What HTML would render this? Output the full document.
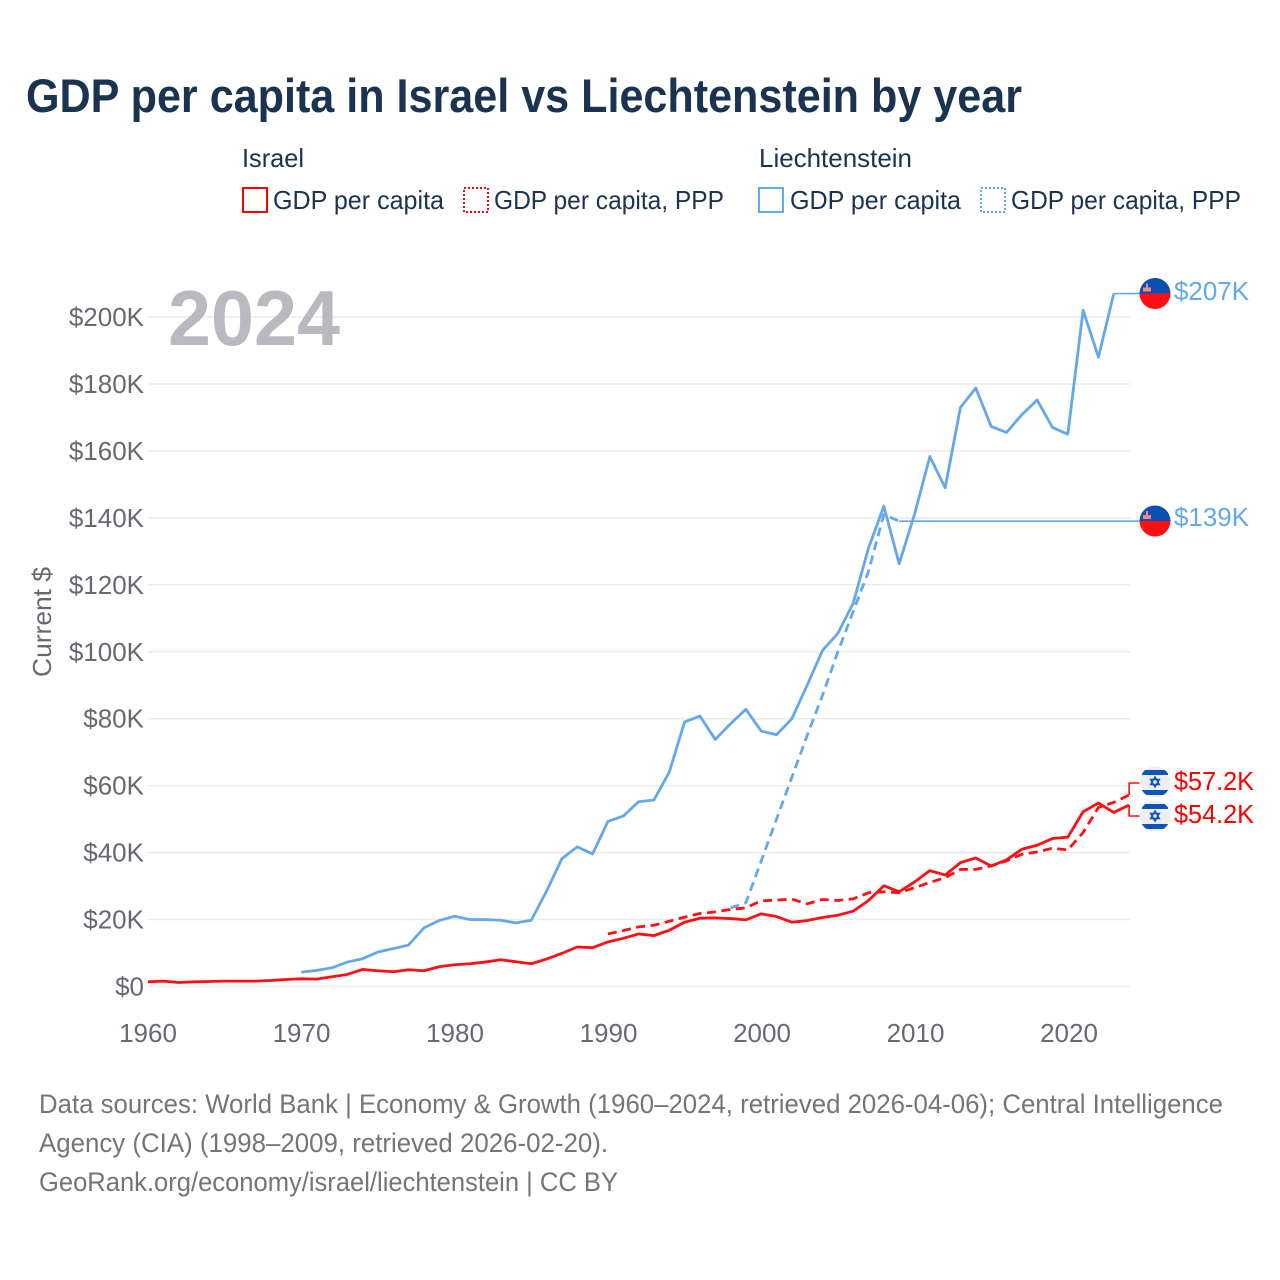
<!DOCTYPE html>
<html lang="en">
<head>
<meta charset="utf-8">
<title>GDP per capita in Israel vs Liechtenstein by year</title>
<style>
html,body{margin:0;padding:0;background:#fff;}
svg{display:block;}
text{font-family:"Liberation Sans",sans-serif;}
</style>
</head>
<body>
<svg id="chart" xmlns="http://www.w3.org/2000/svg" width="1280" height="1280" viewBox="0 0 1280 1280">
  <rect x="0" y="0" width="1280" height="1280" fill="#fff"/>
  <text x="26" y="112" font-size="47" font-weight="bold" fill="#1a3350" textLength="996" lengthAdjust="spacingAndGlyphs">GDP per capita in Israel vs Liechtenstein by year</text>

  <g font-size="26" fill="#1a3350">
    <text x="242" y="167" textLength="62" lengthAdjust="spacingAndGlyphs">Israel</text>
    <rect x="243" y="188" width="24" height="24" fill="none" stroke="#ff0000" stroke-width="2"/>
    <text x="273" y="209" textLength="171" lengthAdjust="spacingAndGlyphs">GDP per capita</text>
    <rect x="464" y="188" width="24" height="24" fill="none" stroke="#ff0000" stroke-width="2" stroke-dasharray="2 2"/>
    <text x="494" y="209" textLength="230" lengthAdjust="spacingAndGlyphs">GDP per capita, PPP</text>
    <text x="759" y="167" textLength="153" lengthAdjust="spacingAndGlyphs">Liechtenstein</text>
    <rect x="759" y="188" width="24" height="24" fill="none" stroke="#64a8ec" stroke-width="2"/>
    <text x="790" y="209" textLength="171" lengthAdjust="spacingAndGlyphs">GDP per capita</text>
    <rect x="981" y="188" width="24" height="24" fill="none" stroke="#64a8ec" stroke-width="2" stroke-dasharray="2 2"/>
    <text x="1011" y="209" textLength="230" lengthAdjust="spacingAndGlyphs">GDP per capita, PPP</text>
  </g>

  <g id="grid"></g>
  <text x="168" y="345" font-size="78" font-weight="bold" fill="#b4b5ba" fill-opacity="0.93" textLength="172" lengthAdjust="spacingAndGlyphs">2024</text>
  <g id="yticks"></g>
  <g id="xticks"></g>
  <text transform="translate(51,622) rotate(-90)" text-anchor="middle" font-size="26" fill="#666a70" textLength="110" lengthAdjust="spacingAndGlyphs">Current $</text>

  <g id="series"></g>

  <defs>
    <clipPath id="flag-clip"><circle cx="0" cy="0" r="15.5"/></clipPath>
  </defs>

  <g transform="translate(1155,293.5)" clip-path="url(#flag-clip)">
    <rect x="-16" y="-16" width="32" height="16" fill="#0a4fb4"/>
    <rect x="-16" y="0" width="32" height="16" fill="#ff0f14"/>
    <rect x="-12" y="-6" width="8" height="4" fill="#f08a80"/>
    <rect x="-9" y="-10" width="2" height="4" fill="#f08a80"/>
  </g>
  <g transform="translate(1155,521)" clip-path="url(#flag-clip)">
    <rect x="-16" y="-16" width="32" height="16" fill="#0a4fb4"/>
    <rect x="-16" y="0" width="32" height="16" fill="#ff0f14"/>
    <rect x="-12" y="-6" width="8" height="4" fill="#f08a80"/>
    <rect x="-9" y="-10" width="2" height="4" fill="#f08a80"/>
  </g>
  <g transform="translate(1155,782)" clip-path="url(#flag-clip)">
    <rect x="-16" y="-16" width="32" height="32" fill="#eeeeee"/>
    <rect x="-13" y="-12" width="26" height="5" fill="#0f55b8"/>
    <rect x="-13" y="8" width="26" height="5" fill="#0f55b8"/>
    <polygon points="0,-5 4.3,2.5 -4.3,2.5" fill="none" stroke="#0f55b8" stroke-width="1.5"/>
    <polygon points="0,5 4.3,-2.5 -4.3,-2.5" fill="none" stroke="#0f55b8" stroke-width="1.5"/>
  </g>
  <g transform="translate(1155,816)" clip-path="url(#flag-clip)">
    <rect x="-16" y="-16" width="32" height="32" fill="#eeeeee"/>
    <rect x="-13" y="-12" width="26" height="5" fill="#0f55b8"/>
    <rect x="-13" y="8" width="26" height="5" fill="#0f55b8"/>
    <polygon points="0,-5 4.3,2.5 -4.3,2.5" fill="none" stroke="#0f55b8" stroke-width="1.5"/>
    <polygon points="0,5 4.3,-2.5 -4.3,-2.5" fill="none" stroke="#0f55b8" stroke-width="1.5"/>
  </g>

  <g font-size="26">
    <text x="1174" y="300" fill="#64a8ec" textLength="75" lengthAdjust="spacingAndGlyphs">$207K</text>
    <text x="1174" y="526" fill="#64a8ec" textLength="75" lengthAdjust="spacingAndGlyphs">$139K</text>
    <text x="1174" y="790" fill="#ff0000" textLength="80" lengthAdjust="spacingAndGlyphs">$57.2K</text>
    <text x="1174" y="823" fill="#ff0000" textLength="80" lengthAdjust="spacingAndGlyphs">$54.2K</text>
  </g>

  <g font-size="27" fill="#757575">
    <text x="39" y="1113" textLength="1184" lengthAdjust="spacingAndGlyphs">Data sources: World Bank | Economy &amp; Growth (1960–2024, retrieved 2026-04-06); Central Intelligence</text>
    <text x="39" y="1152" textLength="569" lengthAdjust="spacingAndGlyphs">Agency (CIA) (1998–2009, retrieved 2026-02-20).</text>
    <text x="39" y="1191" textLength="579" lengthAdjust="spacingAndGlyphs">GeoRank.org/economy/israel/liechtenstein | CC BY</text>
  </g>
</svg>
<script>
const yTickValues = [0, 20, 40, 60, 80, 100, 120, 140, 160, 180, 200];
const yTickLabels = ["$0", "$20K", "$40K", "$60K", "$80K", "$100K", "$120K", "$140K", "$160K", "$180K", "$200K"];
const xTickYears = [1960, 1970, 1980, 1990, 2000, 2010, 2020];
const xTickLabels = ["1960", "1970", "1980", "1990", "2000", "2010", "2020"];

const israelGdpStart = 1960;
const israelGdp = [1.4, 1.6, 1.2, 1.4, 1.5, 1.6, 1.6, 1.6, 1.8, 2.1, 2.3, 2.2, 2.9, 3.6, 5.1, 4.7, 4.4, 5.0, 4.7, 5.9, 6.5, 6.8, 7.3, 8.0, 7.4, 6.8, 8.2, 9.9, 11.8, 11.6, 13.3, 14.4, 15.7, 15.2, 16.8, 19.2, 20.4, 20.5, 20.3, 19.9, 21.7, 20.9, 19.2, 19.7, 20.6, 21.3, 22.5, 25.7, 30.1, 28.3, 31.2, 34.6, 33.3, 37.0, 38.4, 36.0, 37.8, 41.0, 42.2, 44.2, 44.6, 52.2, 54.8, 52.0, 54.2];

const israelPppStart = 1990;
const israelPpp = [15.7, 16.7, 17.8, 18.3, 19.5, 20.7, 21.8, 22.3, 23.0, 23.5, 25.6, 25.8, 26.1, 24.7, 26.0, 25.7, 26.2, 28.0, 28.3, 28.0, 29.5, 31.1, 32.5, 35.0, 35.0, 36.0, 37.5, 39.5, 40.2, 41.3, 40.8, 46.0, 53.5, 55.0, 57.2];

const liechGdpStart = 1970;
const liechGdp = [4.3, 4.8, 5.6, 7.3, 8.3, 10.3, 11.3, 12.4, 17.5, 19.7, 21.0, 20.0, 20.0, 19.8, 19.0, 19.8, 28.5, 38.2, 41.7, 39.6, 49.3, 50.9, 55.2, 55.7, 64.0, 79.0, 80.8, 73.8, 78.5, 82.8, 76.3, 75.2, 80.0, 90.0, 100.4, 105.5, 114.5, 131.0, 143.5, 126.3, 141.0, 158.3, 149.0, 173.0, 178.8, 167.3, 165.5, 170.8, 175.2, 167.0, 165.0, 202.0, 188.0, 207.0];

const liechPppStart = 1998;
const liechPpp = [23.5, 25.0, 37.5, 50.0, 62.5, 75.0, 87.0, 100.0, 112.0, 124.0, 141.0, 139.0];

function xScale(year) { return 148 + (year - 1960) * 15.33; }
function xLabelScale(year) { return 148 + (year - 1960) * 15.35; }
function yScale(value) { return 986.5 - value * 3.3475; }

const NS = "http://www.w3.org/2000/svg";
const gridG = document.getElementById("grid");
const yG = document.getElementById("yticks");
const xG = document.getElementById("xticks");
const seriesG = document.getElementById("series");

yTickValues.forEach(function (v, i) {
  const line = document.createElementNS(NS, "line");
  
  
  line.setAttribute("x1", 148);
  line.setAttribute("x2", 1130);
  line.setAttribute("y1", yScale(v));
  line.setAttribute("y2", yScale(v));
  line.setAttribute("stroke", "#ebebeb");
  line.setAttribute("stroke-width", 1.5);
  gridG.appendChild(line);

  const t = document.createElementNS(NS, "text");
  
  
  t.setAttribute("x", 144);
  t.setAttribute("y", yScale(v) + 9);
  t.setAttribute("text-anchor", "end");
  t.setAttribute("font-size", 26);
  t.setAttribute("fill", "#666a70");
  t.textContent = yTickLabels[i];
  yG.appendChild(t);
});

xTickYears.forEach(function (yr, i) {
  const t = document.createElementNS(NS, "text");
  
  
  t.setAttribute("x", xLabelScale(yr));
  t.setAttribute("y", 1042);
  t.setAttribute("text-anchor", "middle");
  t.setAttribute("font-size", 26);
  t.setAttribute("fill", "#666a70");
  t.textContent = xTickLabels[i];
  xG.appendChild(t);
});

function pathFor(start, values) {
  return values.map(function (v, i) {
    return (i ? "L" : "M") + xScale(start + i).toFixed(2) + " " + yScale(v).toFixed(2);
  }).join(" ");
}

function styleLine(el, color, width, dash) {
  el.setAttribute("fill", "none");
  el.setAttribute("stroke", color);
  el.setAttribute("stroke-width", width);
  el.setAttribute("stroke-linejoin", "round");
  if (dash) el.setAttribute("stroke-dasharray", dash);
}

const blue = "#64a8ec";
const red = "#ff0f14";

const liechPppPath = document.createElementNS(NS, "path");


liechPppPath.setAttribute("d", pathFor(liechPppStart, liechPpp));
styleLine(liechPppPath, blue, 2.8, "9 5.5");
seriesG.appendChild(liechPppPath);

const liechGdpPath = document.createElementNS(NS, "path");


liechGdpPath.setAttribute("d", pathFor(liechGdpStart, liechGdp));
styleLine(liechGdpPath, blue, 2.8, null);
seriesG.appendChild(liechGdpPath);

const israelPppPath = document.createElementNS(NS, "path");


israelPppPath.setAttribute("d", pathFor(israelPppStart, israelPpp));
styleLine(israelPppPath, red, 2.8, "9 5.5");
seriesG.appendChild(israelPppPath);

const israelGdpPath = document.createElementNS(NS, "path");


israelGdpPath.setAttribute("d", pathFor(israelGdpStart, israelGdp));
styleLine(israelGdpPath, red, 2.8, null);
seriesG.appendChild(israelGdpPath);

function lastX(start, values) { return xScale(start + values.length - 1); }
function lastY(values) { return yScale(values[values.length - 1]); }

const connLiechGdp = document.createElementNS(NS, "path");


connLiechGdp.setAttribute("d", "M" + lastX(liechGdpStart, liechGdp) + " " + lastY(liechGdp) + " H1140");
styleLine(connLiechGdp, blue, 1.6, null);
seriesG.appendChild(connLiechGdp);

const connLiechPpp = document.createElementNS(NS, "path");


connLiechPpp.setAttribute("d", "M" + lastX(liechPppStart, liechPpp) + " " + lastY(liechPpp) + " H1140");
styleLine(connLiechPpp, blue, 1.6, null);
seriesG.appendChild(connLiechPpp);

const connIsraelPpp = document.createElementNS(NS, "path");


connIsraelPpp.setAttribute("d", "M" + lastX(israelPppStart, israelPpp) + " " + lastY(israelPpp) + " V783 H1140");
styleLine(connIsraelPpp, red, 1.6, null);
seriesG.appendChild(connIsraelPpp);

const connIsraelGdp = document.createElementNS(NS, "path");


connIsraelGdp.setAttribute("d", "M" + lastX(israelGdpStart, israelGdp) + " " + lastY(israelGdp) + " V816 H1140");
styleLine(connIsraelGdp, red, 1.6, null);
seriesG.appendChild(connIsraelGdp);
</script>
</body>
</html>
